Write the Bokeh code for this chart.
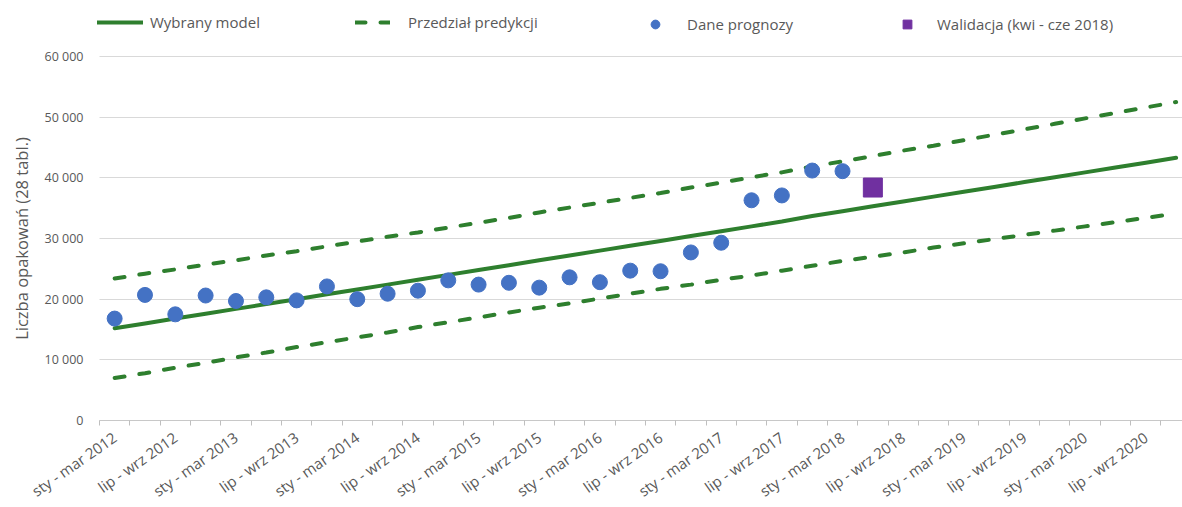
import math
from bokeh.plotting import figure
from bokeh.models import Range1d, FixedTicker, Legend, LegendItem
from bokeh.embed import file_html
from bokeh.resources import INLINE

# ---- data -------------------------------------------------------------
quarter_names = ["sty - mar", "kwi - cze", "lip - wrz", "paź - gru"]
years = [2012, 2013, 2014, 2015, 2016, 2017, 2018, 2019, 2020]
quarters = [f"{q} {y}" for y in years for q in quarter_names]

model = [15200, 16000, 16800, 17600, 18400, 19200, 20000, 20800, 21600, 22400,
         23200, 24000, 24800, 25600, 26400, 27200, 28000, 28800, 29600, 30400,
         31200, 32000, 32800, 33700, 34500, 35300, 36100, 36900, 37700, 38500,
         39300, 40100, 40900, 41700, 42500, 43300]
upper = [23400, 24200, 24900, 25700, 26400, 27200, 27900, 28700, 29500, 30300,
         31000, 31800, 32600, 33400, 34300, 35100, 35900, 36700, 37500, 38400,
         39200, 40100, 40900, 41900, 42700, 43600, 44500, 45300, 46200, 47100,
         48000, 48900, 49800, 50700, 51600, 52500]
lower = [7000, 7800, 8700, 9500, 10400, 11200, 12100, 12900, 13700, 14500,
         15400, 16200, 17000, 17800, 18600, 19300, 20100, 20900, 21700, 22400,
         23200, 23900, 24700, 25500, 26300, 27000, 27700, 28500, 29200, 29900,
         30600, 31300, 32000, 32700, 33400, 34100]
observed = [16800, 20700, 17500, 20600, 19700, 20300, 19800, 22100, 20000, 20900,
            21400, 23100, 22400, 22700, 21900, 23600, 22800, 24700, 24600, 27700,
            29300, 36300, 37100, 41200, 41100]
validation_quarter = "kwi - cze 2018"
validation_value = [38400]

y_ticks = [0, 10000, 20000, 30000, 40000, 50000, 60000]
y_tick_labels = ["0", "10 000", "20 000", "30 000", "40 000", "50 000", "60 000"]

legend_labels = ["Wybrany model", "Przedział predykcji", "Dane prognozy",
                 "Walidacja (kwi - cze 2018)"]
y_title = "Liczba opakowań (28 tabl.)"

# ---- styling ----------------------------------------------------------
GREEN = "#2E7F2E"
BLUE = "#4472C4"
PURPLE = "#7030A0"
TXT = "#595959"
FONT = "Open Sans"

x_all = list(range(1, len(quarters) + 1))
x_obs = x_all[:len(observed)]
x_val = [quarters.index(validation_quarter) + 1]

X0, X1 = 0.5, 36.21          # plotted category span (data units)
Y0, Y1 = 0, 60000            # plotted value span

# the frame covers the whole canvas so that axes/legend drawn inside it are
# not clipped; the ranges are padded so that the data area sits where the
# reference's plot area is.
p = figure(width=1182, height=507,
           x_range=Range1d(-2.764, X1), y_range=Range1d(-14341, 69231),
           output_backend="svg", toolbar_location=None,
           min_border_left=0, min_border_right=0,
           min_border_top=0, min_border_bottom=0)
p.outline_line_color = None
p.background_fill_color = "white"
p.border_fill_color = "white"

# y axis
p.yaxis.fixed_location = X0
p.yaxis.bounds = (Y0, Y1)
p.yaxis.ticker = FixedTicker(ticks=y_ticks)
p.yaxis.major_label_overrides = {t: l for t, l in zip(y_ticks, y_tick_labels)}
p.yaxis.axis_line_color = None
p.yaxis.major_tick_line_color = None
p.yaxis.minor_tick_line_color = None
p.yaxis.major_tick_out = 0
p.yaxis.major_tick_in = 0
p.yaxis.major_label_standoff = 16
p.yaxis.major_label_text_font = FONT
p.yaxis.major_label_text_font_size = "12.5px"
p.yaxis.major_label_text_color = TXT
p.yaxis.axis_label = y_title
p.yaxis.axis_label_text_font = FONT
p.yaxis.axis_label_text_font_size = "16.5px"
p.yaxis.axis_label_text_font_style = "normal"
p.yaxis.axis_label_text_color = TXT
p.yaxis.axis_label_standoff = 9

p.ygrid.ticker = FixedTicker(ticks=y_ticks)
p.ygrid.grid_line_color = "#D9D9D9"
p.ygrid.grid_line_width = 1
try:
    p.ygrid.cross_bounds = (X0, X1)
except AttributeError:
    p.ygrid.visible = False
    p.segment(x0=[X0] * len(y_ticks), x1=[X1] * len(y_ticks), y0=y_ticks,
              y1=y_ticks, line_color="#D9D9D9", line_width=1)
p.xgrid.grid_line_color = None

# x axis at value 0, boundary ticks as minor ticks, labels every 2nd quarter
label_pos = x_all[::2]
p.xaxis.fixed_location = Y0
p.xaxis.bounds = (X0, X1)
p.xaxis.ticker = FixedTicker(ticks=label_pos,
                             minor_ticks=[k - 0.5 for k in x_all] + [x_all[-1] + 0.5])
p.xaxis.major_label_overrides = {k: quarters[k - 1] for k in label_pos}
p.xaxis.major_label_orientation = math.radians(35)
p.xaxis.major_tick_line_color = None
p.xaxis.major_tick_out = 0
p.xaxis.major_tick_in = 0
p.xaxis.minor_tick_line_color = "#BFBFBF"
p.xaxis.minor_tick_out = 5
p.xaxis.minor_tick_in = 0
p.xaxis.axis_line_color = "#C8C8C8"
p.xaxis.major_label_standoff = 10
p.xaxis.major_label_text_font = FONT
p.xaxis.major_label_text_font_size = "15px"
p.xaxis.major_label_text_color = TXT

# glyphs
r_up = p.line(x_all, upper, line_color=GREEN, line_width=4,
              line_dash="10 15", line_cap="round")
r_lo = p.line(x_all, lower, line_color=GREEN, line_width=4,
              line_dash="10 15", line_cap="round")
r_model = p.line(x_all, model, line_color=GREEN, line_width=4, line_cap="round")
r_obs = p.scatter(x_obs, observed, size=15, fill_color=BLUE, line_color=BLUE)
r_val = p.scatter(x_val, validation_value, marker="square", size=19,
                  fill_color=PURPLE, line_color=PURPLE)

# legends (one per entry, positioned above the plotted area)
def add_legend(label, renderer, x, y, gw, gh, standoff):
    lg = Legend(items=[LegendItem(label=label, renderers=[renderer])],
                location=(x, y), orientation="horizontal",
                glyph_width=gw, glyph_height=gh, label_standoff=standoff,
                padding=0, margin=0, spacing=0,
                border_line_color=None, background_fill_alpha=0,
                label_text_font=FONT, label_text_font_size="15px",
                label_text_color=TXT, label_height=gh)
    p.add_layout(lg, "center")

add_legend(legend_labels[0], r_model, 97, 475, 46, 16, 7)
add_legend(legend_labels[1], r_up, 355, 475, 35, 16, 18)
add_legend(legend_labels[2], r_obs, 644, 472, 22, 22, 21)
add_legend(legend_labels[3], r_val, 896, 472, 22, 22, 19)

open("out.html", "w").write(file_html(p, INLINE))
